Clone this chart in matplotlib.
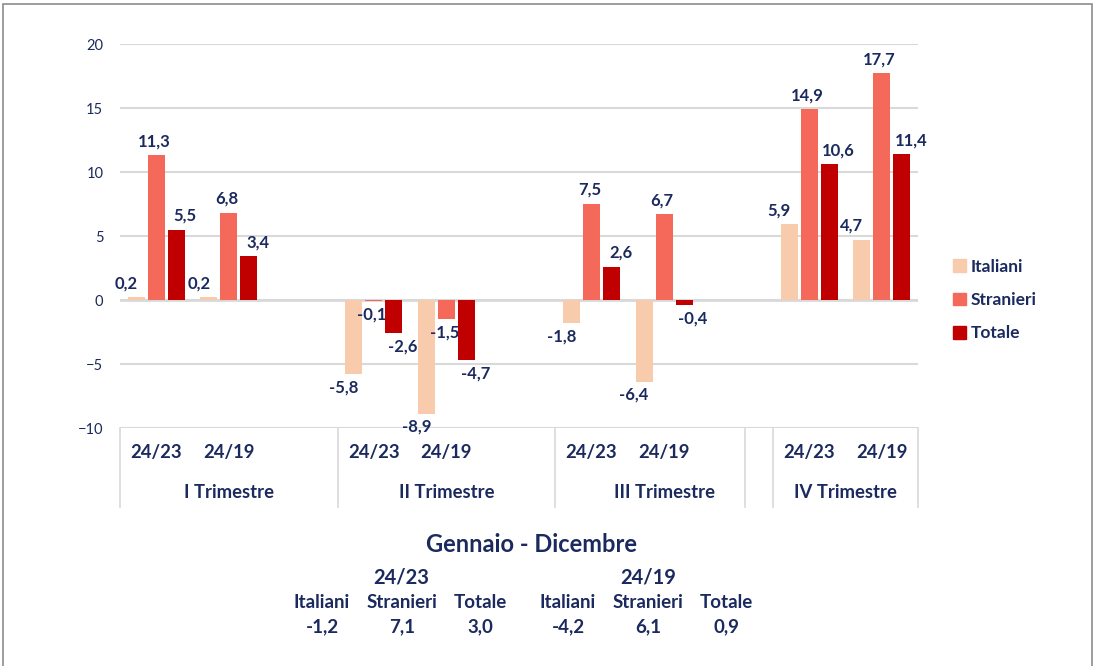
import matplotlib.pyplot as plt
from matplotlib.patches import Rectangle
import numpy as np

plt.rcParams["font.family"] = ["Lato", "DejaVu Sans"]

NAVY = "#1B2A5E"
GRID = "#D9D9D9"

series_names = ["Italiani", "Stranieri", "Totale"]
series_colors = ["#F8CBAD", "#F4695A", "#C00000"]

# 11 category slots along the axis; empty slots keep the gaps between quarters
periods = ["24/23", "24/19", "", "24/23", "24/19", "", "24/23", "24/19", "", "24/23", "24/19"]
quarters = ["I Trimestre", "II Trimestre", "III Trimestre", "IV Trimestre"]
quarter_spans = [(-0.5, 2.5), (2.5, 5.5), (5.5, 8.5), (8.5, 10.5)]

italiani = [0.2, 0.2, None, -5.8, -8.9, None, -1.8, -6.4, None, 5.9, 4.7]
stranieri = [11.3, 6.8, None, -0.1, -1.5, None, 7.5, 6.7, None, 14.9, 17.7]
totale = [5.5, 3.4, None, -2.6, -4.7, None, 2.6, -0.4, None, 10.6, 11.4]

# yearly summary (Gennaio - Dicembre)
summary_periods = ["24/23", "24/19"]
summary_values = [[-1.2, 7.1, 3.0], [-4.2, 6.1, 0.9]]


def fmt(v):
    return f"{v:.1f}".replace(".", ",")


fig = plt.figure(figsize=(10.96, 6.66), dpi=100)
ax = fig.add_axes([120 / 1096, 1 - 428 / 666, 798 / 1096, 384 / 666])

x = np.arange(len(periods))
offsets = [-0.276, 0.0, 0.276]
label_dx = [-10, -2, 9]
width = 0.234

for vals, off, color, dx in zip([italiani, stranieri, totale], offsets, series_colors, label_dx):
    for xi, v in zip(x, vals):
        if v is None:
            continue
        ax.bar(xi + off, v, width=width, color=color, zorder=3)
        dy = 6 if v >= 0 else -5
        ax.annotate(fmt(v), (xi + off, v), xytext=(dx, dy), textcoords="offset pixels",
                    ha="center", va="bottom" if v >= 0 else "top",
                    fontsize=12, fontweight="bold", color=NAVY)

ax.set_xlim(-0.5, 10.5)
ax.set_ylim(-10, 20)
ax.set_yticks(range(-10, 21, 5))
ax.yaxis.grid(True, color=GRID, linewidth=1.5, zorder=0)
ax.axhline(0, color=GRID, linewidth=2, zorder=2)
ax.tick_params(axis="y", length=0, pad=12, labelsize=10.5, labelcolor=NAVY)
ax.set_xticks([])
for s in ax.spines.values():
    s.set_visible(False)

# two-level category axis below the plot
for xi, p in zip(x, periods):
    if p:
        ax.text(xi, -11.95, p, ha="center", va="center",
                fontsize=13.3, fontweight="bold", color=NAVY, clip_on=False)

for q, (a, b) in zip(quarters, quarter_spans):
    ax.text((a + b) / 2, -15.05, q, ha="center", va="center",
            fontsize=13.3, fontweight="bold", color=NAVY, clip_on=False)

for sx in [-0.5, 2.5, 5.5, 8.12, 8.5, 10.5]:
    ax.plot([sx, sx], [-10, -16.2], color=GRID, linewidth=1.2, clip_on=False)

# legend
handles = [Rectangle((0, 0), 1, 1, color=c) for c in series_colors]
fig.legend(handles, series_names, loc="center left", bbox_to_anchor=(937 / 1096, 1 - 300 / 666),
           frameon=False, handlelength=0.75, handleheight=0.75, handletextpad=0.3,
           labelspacing=1.0, prop={"size": 12.5, "weight": "bold"}, labelcolor=NAVY)

# yearly summary block
fig.text(531 / 1096, 1 - 545 / 666, "Gennaio - Dicembre", ha="center", va="center",
         fontsize=17, fontweight="bold", color=NAVY)
header_x = [401, 648]
col_x = [[322, 402, 480], [568, 648, 726]]
for per, hx, cols, vals in zip(summary_periods, header_x, col_x, summary_values):
    fig.text(hx / 1096, 1 - 577 / 666, per, ha="center", va="center",
             fontsize=14.5, fontweight="bold", color=NAVY)
    for name, cx, v in zip(series_names, cols, vals):
        fig.text(cx / 1096, 1 - 602 / 666, name, ha="center", va="center",
                 fontsize=13.5, fontweight="bold", color=NAVY)
        fig.text(cx / 1096, 1 - 627 / 666, fmt(v), ha="center", va="center",
                 fontsize=13.5, fontweight="bold", color=NAVY)

# outer frame (left, top, right edges)
fig.patches.append(Rectangle((3 / 1096, -0.1), 1089 / 1096, 1.1 - 4 / 666,
                             transform=fig.transFigure, fill=False,
                             edgecolor="#8C8C8C", linewidth=1.2))

fig.savefig("out.png", dpi=100)
